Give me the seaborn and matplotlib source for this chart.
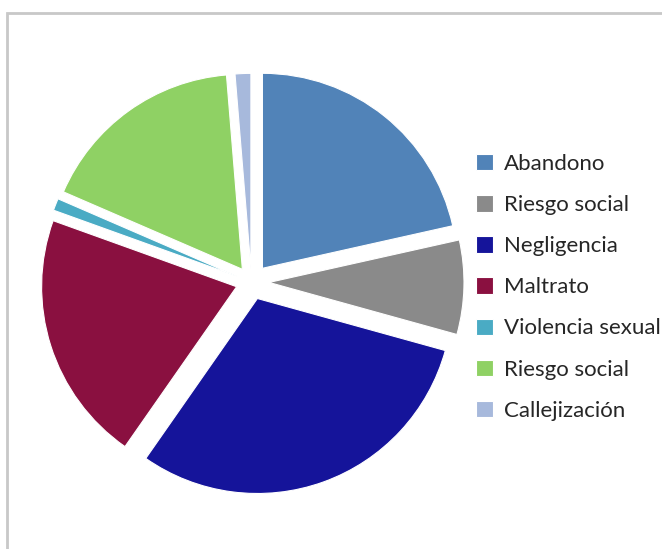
import matplotlib
matplotlib.use("Agg")
import matplotlib.pyplot as plt
from matplotlib.patches import Rectangle
import seaborn as sns

# Datos (porcentajes)
categorias = ['Abandono', 'Riesgo social', 'Negligencia', 'Maltrato',
              'Violencia sexual', 'Riesgo social', 'Callejización']
valores = [21.5, 7.8, 30.4, 20.8, 1.0, 17.2, 1.3]
colores = ['#5183b8', '#8a8a8a', '#15149a', '#8a1040',
           '#4aabc4', '#8fd164', '#a7b9dc']
separacion = [0.09, 0.09, 0.09, 0.08, 0.08, 0.08, 0.07]

sns.set_theme(style="white")
plt.rcParams['font.family'] = ['Lato', 'DejaVu Sans']

fig = plt.figure(figsize=(6.62, 5.49), dpi=100)
fig.patches.append(Rectangle((7 / 662, -0.1), 1.2, 1 - 13 / 549 + 0.1,
                             transform=fig.transFigure, fill=False,
                             edgecolor='#c8c8c8', linewidth=2.0))

ax = fig.add_axes([0.0264, 0.0601, 0.7069, 0.8525])
wedges, _ = ax.pie(valores, colors=colores, explode=separacion,
                   startangle=90, counterclock=False,
                   wedgeprops={'linewidth': 0.8, 'edgecolor': 'white'})
ax.set_xlim(-1.2, 1.2)
ax.set_ylim(-1.2, 1.2)
ax.set_aspect('equal')
ax.axis('off')

fig.legend(wedges, categorias, loc='upper left',
           bbox_to_anchor=(476 / 662, 1 - 154 / 549),
           frameon=False, fontsize=16, labelspacing=0.95,
           handlelength=0.75, handleheight=0.75, handletextpad=0.5,
           borderaxespad=0, borderpad=0, labelcolor='#262626')

plt.savefig('out.png', dpi=100)
